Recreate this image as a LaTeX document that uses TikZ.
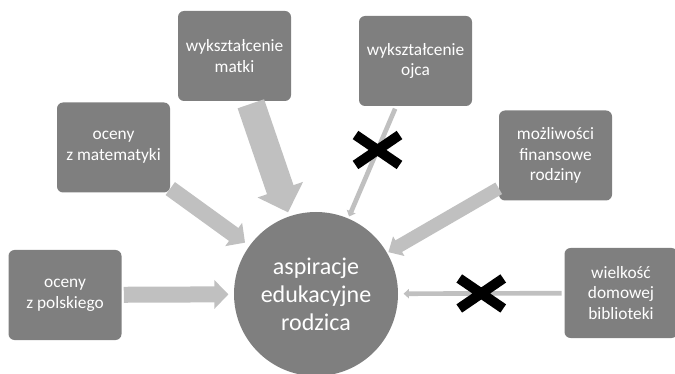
\documentclass[tikz,border=0pt]{standalone}
\usepackage{fontspec}
\setmainfont{Carlito}
\usetikzlibrary{arrows.meta,shapes.misc}
\definecolor{boxgray}{HTML}{7F7F7F}
\definecolor{arrowgray}{HTML}{C0C0C0}
\tikzset{
	factor/.style={rectangle, rounded corners=4.5pt, fill=boxgray, text=white,
		minimum width=84.75pt, minimum height=67.5pt, align=center, inner sep=2pt,
		font=\fontsize{13}{15.5}\selectfont},
	goal/.style={circle, fill=boxgray, text=white, minimum size=123pt, inner sep=0pt,
		align=center, font=\fontsize{18}{21}\selectfont},
	bigarrow/.style={draw=arrowgray, line width=12pt, -{Triangle[width=21pt,length=10.5pt]}},
	hugearrow/.style={draw=arrowgray, line width=21pt, -{Triangle[width=35pt,length=18pt]}},
	midarrow/.style={draw=arrowgray, line width=10pt, -{Triangle[width=16.5pt,length=9pt]}},
	thinarrow/.style={draw=arrowgray, line width=3.5pt, -{Triangle[width=7pt,length=4pt]}},
	nolink/.style={cross out, draw=black, line width=7.5pt, minimum width=25.5pt,
		minimum height=15pt, inner sep=0pt}
}
\begin{document}
\begin{tikzpicture}[x=0.75pt, y=-0.75pt]
	\useasboundingbox (0,0) rectangle (675,374);
	\node[goal] (asp) at (316,294) {aspiracje\\edukacyjne\\rodzica};
	\node[factor] (mat) at (234.5,56) {wykształcenie\\matki};
	\node[factor] (mth) at (113.5,147.5) {oceny\\z matematyki};
	\node[factor] (pol) at (65,295) {oceny\\z polskiego};
	\node[factor] (oj) at (415.5,61) {wykształcenie\\ojca};
	\node[factor] (fin) at (555.5,155.5) {możliwości\\finansowe\\rodziny};
	\node[factor] (bib) at (621,293) {wielkość\\domowej\\biblioteki};
	\draw[bigarrow, shorten <=1.5pt, shorten >=4pt] (pol) -- (asp);
	\draw[bigarrow, shorten >=4pt] (mth) -- (asp);
	\draw[hugearrow, shorten <=2pt, shorten >=3pt] (mat) -- (asp);
	\draw[midarrow, shorten >=1pt] (fin) -- (asp);
	\draw[thinarrow, shorten <=2pt, shorten >=1.5pt] (oj) -- coordinate[pos=0.39] (xoj) (asp);
	\draw[thinarrow, shorten <=2pt, shorten >=4pt] (bib) -- coordinate[pos=0.5] (xbib) (asp);
	\node[nolink] at (xoj) {};
	\node[nolink] at (xbib) {};
\end{tikzpicture}
\end{document}
